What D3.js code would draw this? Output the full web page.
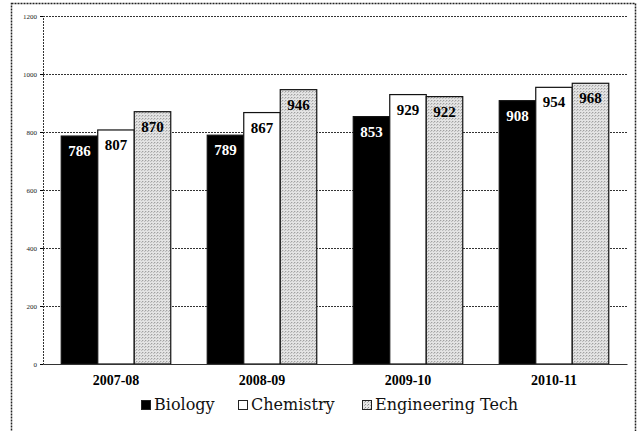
<!DOCTYPE html>
<html>
<head>
<meta charset="utf-8">
<script src="https://cdn.jsdelivr.net/npm/d3@7"></script>
<style>
  body { margin: 0; background: #fff; }
  svg { display: block; }
</style>
</head>
<body>
<svg id="chart" width="640" height="431"></svg>
<script>
const years = ["2007-08", "2008-09", "2009-10", "2010-11"];
const seriesNames = ["Biology", "Chemistry", "Engineering Tech"];
const biology = [786, 789, 853, 908];
const chemistry = [807, 867, 929, 954];
const engineering = [870, 946, 922, 968];
const yTicks = [0, 200, 400, 600, 800, 1000, 1200];

const margin = { top: 16, right: 13, bottom: 67, left: 43 };
const W = 640, H = 431;
const width = W - margin.left - margin.right;
const height = H - margin.top - margin.bottom;

const svg = d3.select("#chart");

// stipple pattern for the grey bars
const defs = svg.append("defs");
const pat = defs.append("pattern")
  .attr("id", "stipple")
  .attr("width", 3).attr("height", 3)
  .attr("patternUnits", "userSpaceOnUse");
pat.append("rect").attr("width", 3).attr("height", 3).attr("fill", "#e4e4e4");
pat.append("rect").attr("x", 0).attr("y", 0).attr("width", 1).attr("height", 1).attr("fill", "#8a8a8a");
pat.append("rect").attr("x", 2).attr("y", 1).attr("width", 1).attr("height", 1).attr("fill", "#b0b0b0");

const fills = ["#000", "#fff", "url(#stipple)"];
const textFills = ["#fff", "#000", "#000"];

// outer frame
svg.append("rect")
  .attr("x", 11.5).attr("y", 3.5)
  .attr("width", 624).attr("height", 440)
  .attr("fill", "none")
  .attr("stroke", "#222")
  .attr("stroke-width", 1.5)
  .attr("stroke-dasharray", "2,1");

const g = svg.append("g").attr("transform", `translate(${margin.left},${margin.top})`);

const x0 = d3.scaleBand().domain(years).range([0, width]).paddingInner(0.25).paddingOuter(0.125);
const x1 = d3.scaleBand().domain(seriesNames).range([0, x0.bandwidth()]);
const y = d3.scaleLinear().domain([0, 1200]).range([height, 0]);

// gridlines
g.append("g")
  .attr("class", "grid")
  .call(d3.axisLeft(y).tickValues(yTicks.slice(1)).tickSize(-width).tickFormat(""))
  .call(s => s.select(".domain").remove())
  .call(s => s.selectAll("line").attr("stroke", "#333").attr("stroke-dasharray", "2,1"));

// y axis
g.append("g")
  .call(d3.axisLeft(y).tickValues(yTicks).tickFormat(d3.format("d")).tickSize(3).tickPadding(3))
  .call(s => s.select(".domain").attr("stroke", "#333").attr("stroke-dasharray", "2,1"))
  .call(s => s.selectAll("text")
    .attr("font-family", "Liberation Serif")
    .attr("font-size", 7)
    .attr("fill", "#222"));

const data = years.map((yr, i) => ({
  year: yr,
  values: [biology[i], chemistry[i], engineering[i]]
}));

const group = g.selectAll(".group")
  .data(data)
  .enter()
  .append("g")
  .attr("class", "group")
  .attr("transform", d => `translate(${x0(d.year)},0)`);

const bars = group.selectAll(".bar")
  .data(d => d.values.map((v, j) => ({ name: seriesNames[j], v, j })))
  .enter()
  .append("g");

bars.append("rect")
  .attr("x", d => x1(d.name))
  .attr("y", d => y(d.v))
  .attr("width", x1.bandwidth())
  .attr("height", d => height - y(d.v))
  .attr("fill", d => fills[d.j])
  .attr("stroke", "#111")
  .attr("stroke-width", 1.2);

bars.append("text")
  .attr("x", d => x1(d.name) + x1.bandwidth() / 2)
  .attr("y", d => y(d.v) + 20)
  .attr("text-anchor", "middle")
  .attr("font-family", "Liberation Serif")
  .attr("font-weight", "bold")
  .attr("font-size", 15)
  .attr("fill", d => textFills[d.j])
  .text(d => d.v);

// x axis baseline
g.append("g")
  .attr("transform", `translate(0,${height})`)
  .call(d3.axisBottom(x0).tickSize(0).tickPadding(11))
  .call(s => s.select(".domain").attr("stroke", "#333"))
  .call(s => s.selectAll("text")
    .attr("font-family", "Liberation Serif")
    .attr("font-weight", "bold")
    .attr("font-size", 14)
    .attr("fill", "#000"));

// legend
const legendX = [141, 238, 362];
const legend = svg.append("g").attr("transform", "translate(0,410)");
const item = legend.selectAll(".item")
  .data(seriesNames)
  .enter()
  .append("g")
  .attr("transform", (d, i) => `translate(${legendX[i]},0)`);
item.append("rect")
  .attr("x", 0.5).attr("y", -9.5)
  .attr("width", 9).attr("height", 9)
  .attr("fill", (d, i) => fills[i])
  .attr("stroke", "#222")
  .attr("stroke-width", 1);
item.append("text")
  .attr("x", 13)
  .attr("y", 0)
  .attr("font-family", "DejaVu Serif")
  .attr("font-size", 16)
  .attr("fill", "#111")
  .text(d => d);
</script>
</body>
</html>
